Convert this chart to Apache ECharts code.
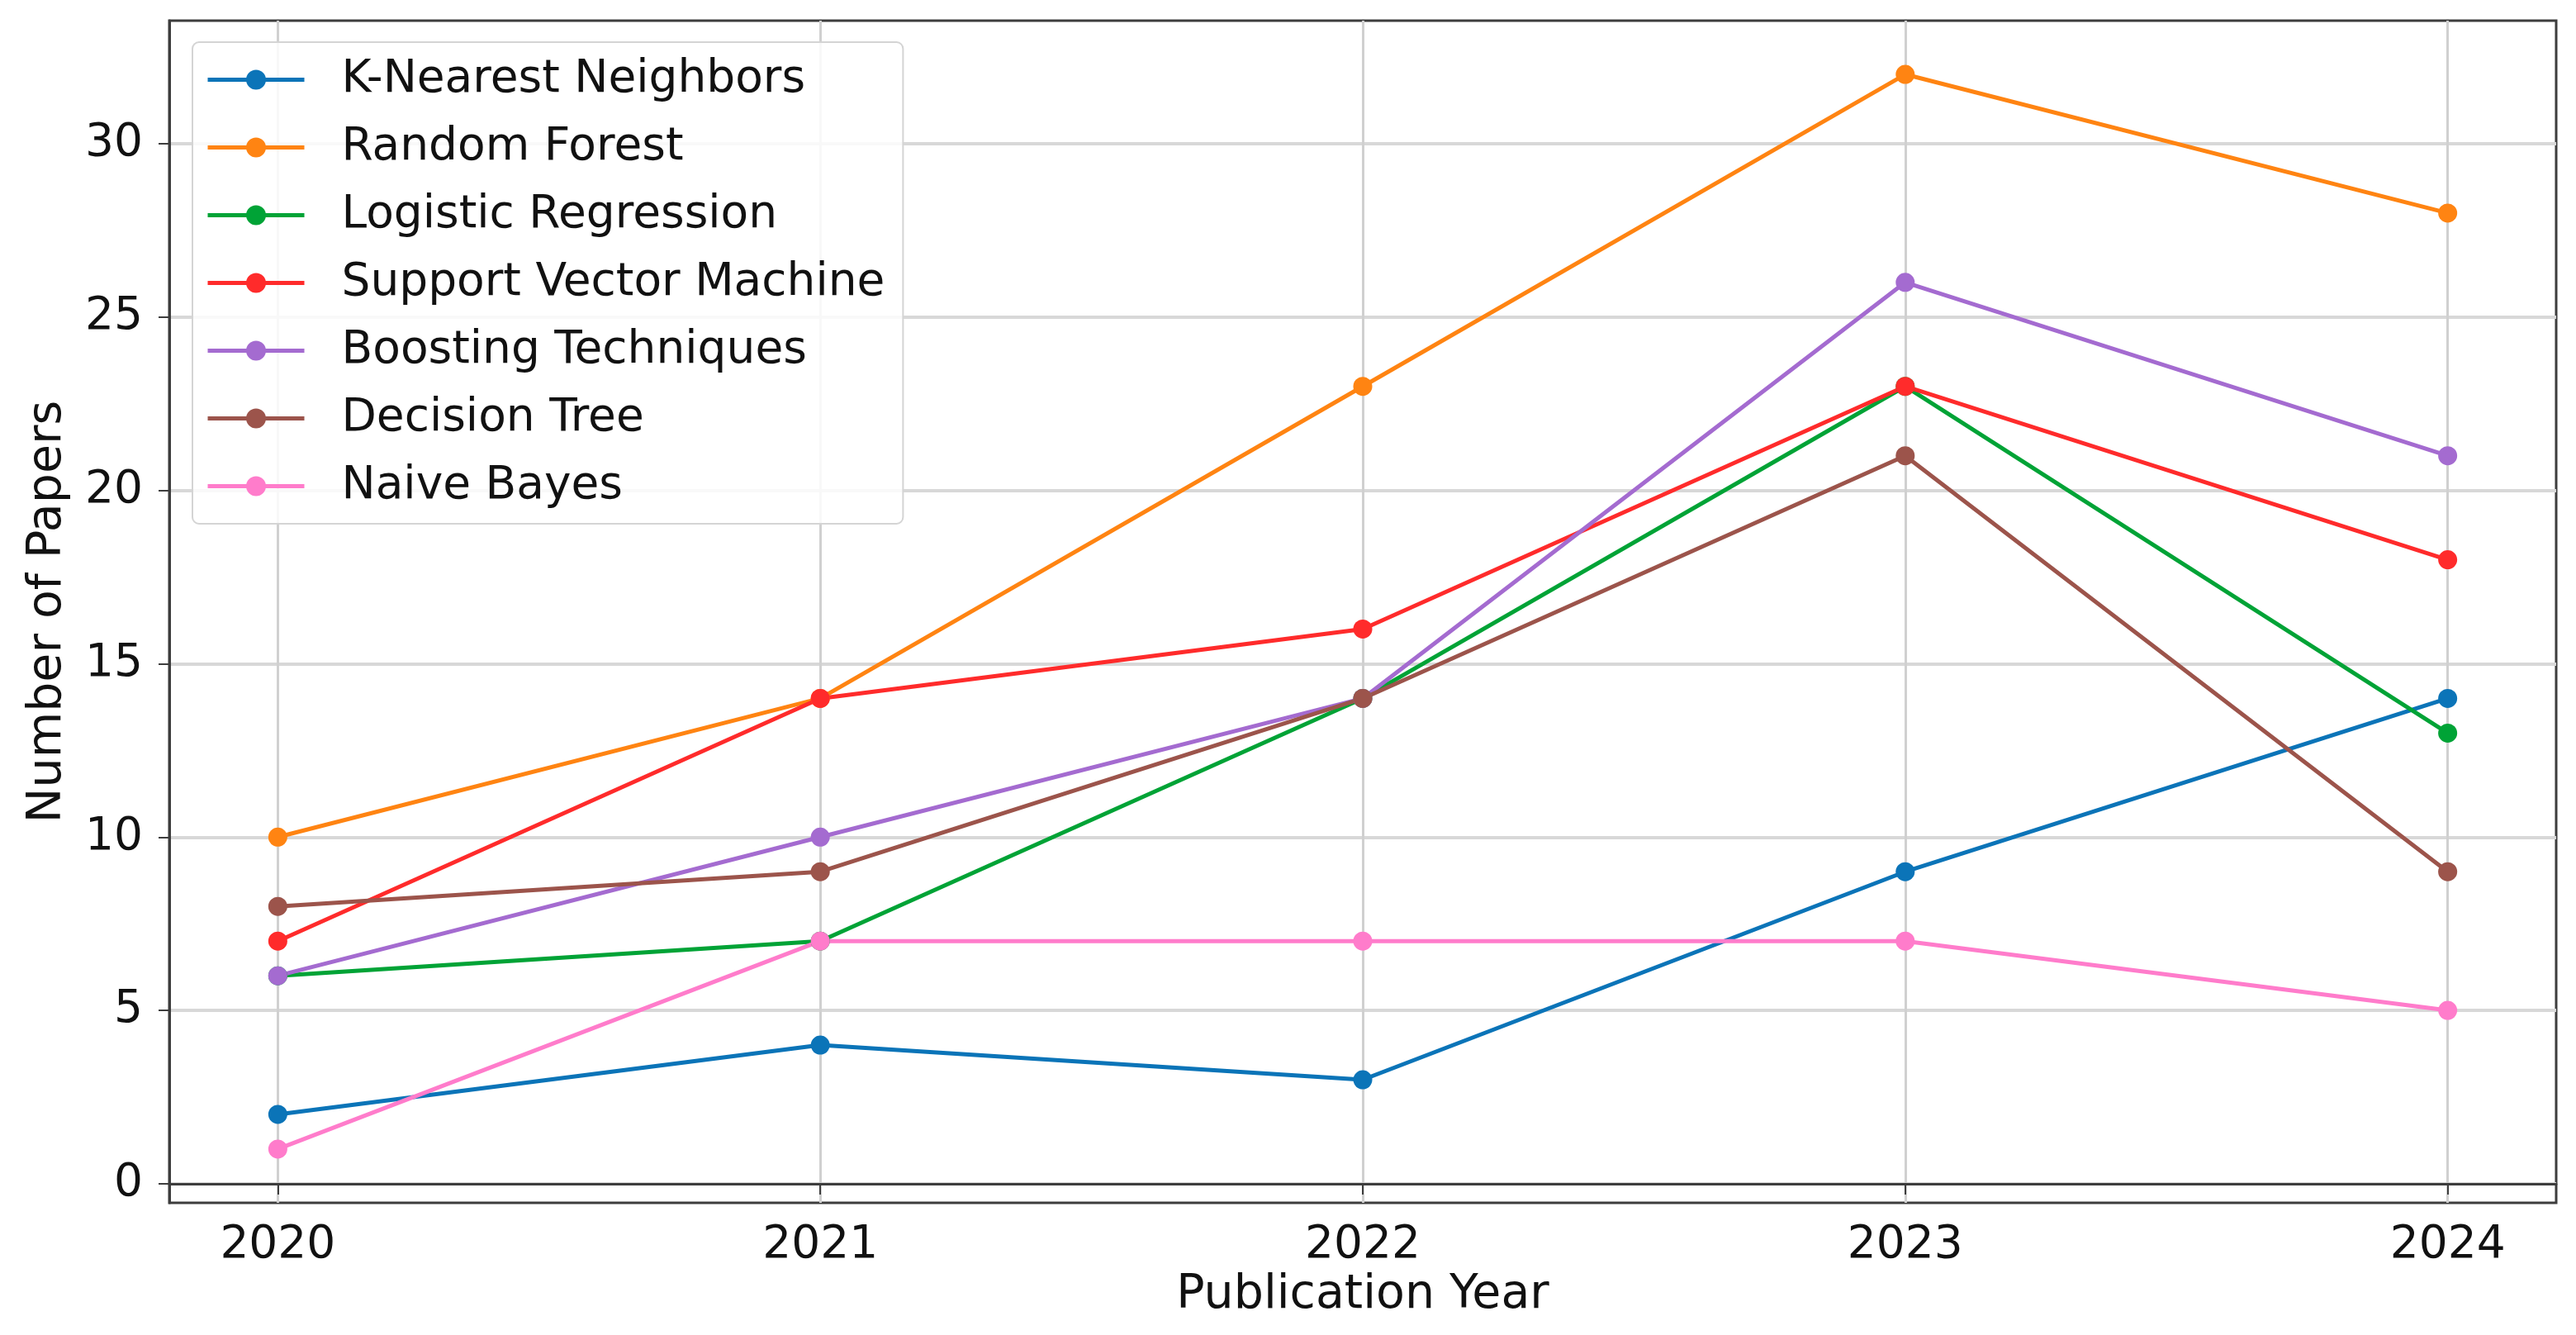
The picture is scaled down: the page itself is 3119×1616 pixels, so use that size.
<!DOCTYPE html>
<html>
<head>
<meta charset="utf-8">
<script src="https://cdn.jsdelivr.net/npm/echarts@6/dist/echarts.min.js"></script>
<style>
html,body{margin:0;padding:0;background:#fff;}
#chart{width:3119px;height:1616px;}
</style>
</head>
<body>
<div id="chart"></div>
<script>
const years = [2020, 2021, 2022, 2023, 2024];
const yTicks = [0, 5, 10, 15, 20, 25, 30];
const seriesNames = ['K-Nearest Neighbors','Random Forest','Logistic Regression','Support Vector Machine','Boosting Techniques','Decision Tree','Naive Bayes'];
const knn = [2, 4, 3, 9, 14];
const randomForest = [10, 14, 23, 32, 28];
const logistic = [6, 7, 14, 23, 13];
const svm = [7, 14, 16, 23, 18];
const boosting = [6, 10, 14, 26, 21];
const decisionTree = [8, 9, 14, 21, 9];
const naiveBayes = [1, 7, 7, 7, 5];
const allValues = [knn, randomForest, logistic, svm, boosting, decisionTree, naiveBayes];
const colors = ['#0b74b8','#ff8412','#00a336','#ff2b2b','#a46bd0','#9c544b','#ff7ccb'];

const font = 'DejaVu Sans';
const chart = echarts.init(document.getElementById('chart'));
chart.setOption({
  animation: false,
  backgroundColor: '#ffffff',
  color: colors,
  grid: { left: 205, right: 24, top: 25, bottom: 160, containLabel: false,
          show: true, borderColor: '#3d3d3d', borderWidth: 3, backgroundColor: 'transparent' },
  legend: {
    orient: 'vertical',
    left: 233, top: 51,
    padding: [15, 22, 15, 16],
    itemWidth: 117, itemHeight: 30, itemGap: 21,
    backgroundColor: 'rgba(255,255,255,0.85)',
    borderColor: '#d4d4d4', borderWidth: 2, borderRadius: 8,
    lineStyle: { width: 5 },
    textStyle: { fontFamily: font, fontSize: 55, color: '#111111', padding: [0,0,0,40], lineHeight: 61 },
    data: seriesNames
  },
  xAxis: {
    type: 'value', min: 2019.8, max: 2024.2,
    name: 'Publication Year', nameLocation: 'middle', nameGap: 84,
    nameTextStyle: { fontFamily: font, fontSize: 57, color: '#111111' },
    axisLine: { show: true, lineStyle: { color: '#3d3d3d', width: 3 } },
    axisTick: { show: true, customValues: years, length: 13, lineStyle: { color: '#3d3d3d', width: 2 } },
    axisLabel: { customValues: years, fontFamily: font, fontSize: 55, color: '#111111', margin: 24, formatter: v => String(v) },
    splitLine: { show: true, lineStyle: { color: '#d0d0d0', width: 3 } }
  },
  yAxis: {
    type: 'value', min: -0.55, max: 33.55,
    name: 'Number of Papers', nameLocation: 'middle', nameGap: 118,
    nameTextStyle: { fontFamily: font, fontSize: 57, color: '#111111' },
    axisLine: { show: true, lineStyle: { color: '#3d3d3d', width: 3 } },
    axisTick: { show: true, customValues: yTicks, length: 13, lineStyle: { color: '#3d3d3d', width: 2 } },
    axisLabel: { customValues: yTicks, fontFamily: font, fontSize: 55, color: '#111111', margin: 32, formatter: v => String(v) },
    splitLine: { show: true, lineStyle: { color: '#d8d8d8', width: 4 } }
  },
  series: seriesNames.map((name, i) => ({
    name: name,
    type: 'line',
    data: years.map((y, j) => [y, allValues[i][j]]),
    symbol: 'circle',
    symbolSize: 23,
    lineStyle: { width: 5, color: colors[i] },
    itemStyle: { color: colors[i] },
    z: 3
  }))
});
</script>
</body>
</html>
